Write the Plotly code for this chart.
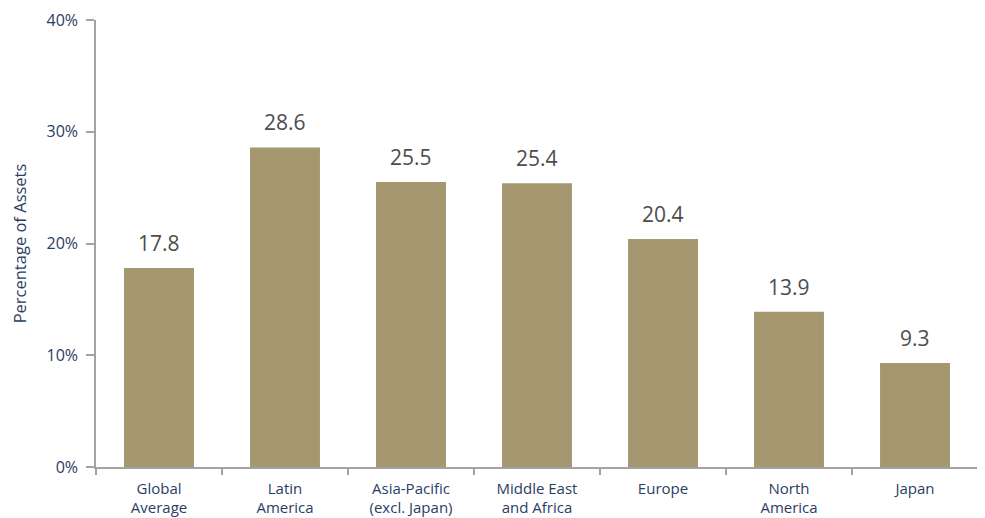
import plotly.graph_objects as go

categories = ["Global<br>Average", "Latin<br>America", "Asia-Pacific<br>(excl. Japan)",
              "Middle East<br>and Africa", "Europe", "North<br>America", "Japan"]
values = [17.8, 28.6, 25.5, 25.4, 20.4, 13.9, 9.3]
value_labels = ["17.8", "28.6", "25.5", "25.4", "20.4", "13.9", "9.3"]
y_ticks = [0, 10, 20, 30, 40]
y_tick_labels = ["0%", "10%", "20%", "30%", "40%"]

NAVY = "#2b3d62"
AXIS = "#a3a3a3"
BAR = "#a59770"
FONT = "Open Sans"

fig = go.Figure()
fig.add_trace(go.Bar(
    x=categories, y=values, marker=dict(color=BAR, line=dict(width=0)),
    width=0.555, hoverinfo="skip",
))

for c, v, t in zip(categories, values, value_labels):
    fig.add_annotation(x=c, y=v, text=t, showarrow=False, yanchor="middle",
                       yshift=25, font=dict(family=FONT, size=21, color="#4d4d4d"))

fig.update_layout(
    width=977, height=510,
    margin=dict(l=88, r=7, t=12, b=51),
    plot_bgcolor="white", paper_bgcolor="white",
    showlegend=False,
    font=dict(family=FONT, color=NAVY),
    xaxis=dict(
        type="category", range=[-0.5, 6.5], automargin=False,
        showline=True, linecolor=AXIS, linewidth=1.5,
        ticks="outside", tickson="boundaries", ticklen=6, tickcolor=AXIS, tickwidth=1.5,
        tickfont=dict(family=FONT, size=15, color=NAVY), ticklabelstandoff=7,
        showgrid=False, zeroline=False,
    ),
    yaxis=dict(
        range=[0, 40], tickvals=y_ticks, ticktext=y_tick_labels, automargin=False,
        showline=True, linecolor=AXIS, linewidth=1.5,
        ticks="outside", ticklen=8, tickcolor=AXIS, tickwidth=1.5,
        tickfont=dict(family=FONT, size=16, color=NAVY), ticklabelstandoff=5,
        showgrid=False, zeroline=False,
        title=dict(text="Percentage of Assets", font=dict(family=FONT, size=16.5, color=NAVY), standoff=16),
    ),
)

fig.write_html("out.html")
